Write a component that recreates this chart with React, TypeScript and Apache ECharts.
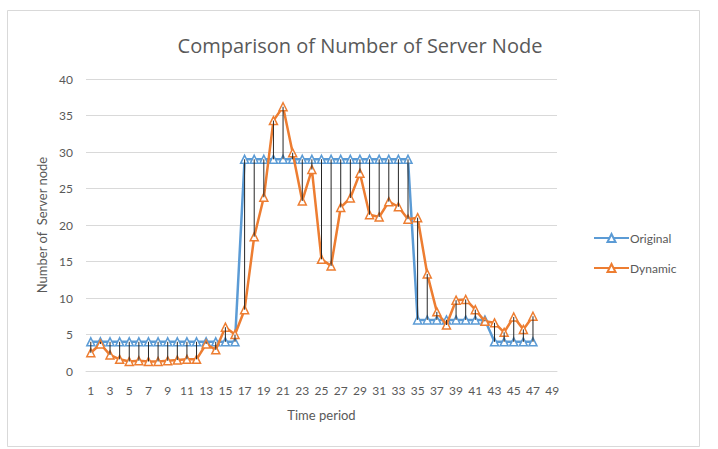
import React, { useEffect, useRef } from "react";
import * as echarts from "echarts";

const categories: string[] = Array.from({ length: 49 }, (_, i) => String(i + 1));

const original: number[] = [
  4, 4, 4, 4, 4, 4, 4, 4, 4, 4, 4, 4, 4, 4, 4, 4,
  29, 29, 29, 29, 29, 29, 29, 29, 29, 29, 29, 29, 29, 29, 29, 29, 29, 29,
  7, 7, 7, 7, 7, 7, 7, 7,
  4, 4, 4, 4, 4,
];

const dynamic: number[] = [
  2.5, 3.7, 2.2, 1.6, 1.3, 1.4, 1.3, 1.3, 1.4, 1.5, 1.6, 1.6, 3.7, 2.9, 6.0, 5.0,
  8.4, 18.4, 23.8, 34.3, 36.2, 29.9, 23.3, 27.6, 15.3, 14.4, 22.4, 23.7, 27.1, 21.4,
  21.1, 23.2, 22.5, 20.8, 21.0,
  13.3, 8.1, 6.3, 9.7, 9.8, 8.4, 6.8, 6.6, 5.3, 7.4, 5.7, 7.5,
];

const yTicks = { min: 0, max: 40, interval: 5 };

const FONT = "Lato, 'Open Sans', sans-serif";
const TXT = "#595959";

export default function App() {
  const ref = useRef<HTMLDivElement>(null);
  useEffect(() => {
    if (!ref.current) return;
    const chart = echarts.init(ref.current, undefined, { renderer: "svg" });
    const hlData = original.map((v, i) => [i, v, dynamic[i]]);
    chart.setOption({
      animation: false,
      backgroundColor: "#ffffff",
      textStyle: { fontFamily: FONT, color: TXT },
      graphic: [
        {
          type: "rect",
          shape: { x: 7.5, y: 10.5, width: 692, height: 436 },
          style: { fill: "none", stroke: "#d9d9d9", lineWidth: 1 },
          silent: true,
          z: -10,
        },
      ],
      title: {
        text: "Comparison of Number of Server Node",
        left: 355,
        textAlign: "center",
        top: 30,
        textStyle: { fontFamily: "'Open Sans', Lato, sans-serif", fontSize: 20, fontWeight: "normal", color: TXT },
      },
      legend: {
        orient: "vertical",
        left: 588,
        top: 227,
        itemWidth: 35,
        itemHeight: 10,
        itemGap: 18,
        textStyle: { fontFamily: FONT, fontSize: 12, color: TXT, padding: [0, 0, 0, -4] },
        data: ["Original", "Dynamic"],
      },
      grid: { left: 86, right: 161, top: 79, bottom: 78, containLabel: false },
      xAxis: {
        type: "category",
        data: categories,
        boundaryGap: true,
        name: "Time period",
        nameLocation: "middle",
        nameGap: 37,
        nameTextStyle: { fontFamily: FONT, fontSize: 13, color: TXT },
        axisLine: { show: true, lineStyle: { color: "#d9d9d9", width: 1 } },
        axisTick: { show: false },
        axisLabel: { interval: 1, margin: 13, fontFamily: FONT, fontSize: 12, color: TXT },
        splitLine: { show: false },
      },
      yAxis: {
        type: "value",
        min: yTicks.min,
        max: yTicks.max,
        interval: yTicks.interval,
        name: "Number of  Server node",
        nameLocation: "middle",
        nameGap: 37,
        nameRotate: 90,
        nameTextStyle: { fontFamily: FONT, fontSize: 13, color: TXT },
        axisLine: { show: false },
        axisTick: { show: false },
        axisLabel: { margin: 13, fontFamily: FONT, fontSize: 12, color: TXT },
        splitLine: { lineStyle: { color: "#d9d9d9", width: 1 } },
      },
      series: [
        {
          name: "Original",
          type: "line",
          data: original,
          symbol: "triangle",
          symbolSize: 8,
          showSymbol: true,
          showAllSymbol: true,
          lineStyle: { color: "#5b9bd5", width: 2.5 },
          itemStyle: { color: "#ffffff", borderColor: "#5b9bd5", borderWidth: 1.5 },
          emphasis: { disabled: true },
          z: 2,
        },
        {
          name: "Dynamic",
          type: "line",
          data: dynamic,
          symbol: "triangle",
          symbolSize: 8,
          showSymbol: true,
          showAllSymbol: true,
          lineStyle: { color: "#ed7d31", width: 2.5 },
          itemStyle: { color: "#ffffff", borderColor: "#ed7d31", borderWidth: 1.5 },
          emphasis: { disabled: true },
          z: 3,
        },
        {
          name: "HighLow",
          type: "custom",
          data: hlData,
          encode: { x: 0, y: [1, 2] },
          renderItem: (_params: any, api: any) => {
            const i = api.value(0);
            const a = api.coord([i, api.value(1)]);
            const b = api.coord([i, api.value(2)]);
            return {
              type: "line",
              shape: { x1: a[0], y1: a[1], x2: b[0], y2: b[1] },
              style: { stroke: "#262626", lineWidth: 1 },
            };
          },
          silent: true,
          z: 4,
        },
      ],
    });
    return () => chart.dispose();
  }, []);
  return (
    <div
      ref={ref}
      style={{ position: "fixed", left: 0, top: 0, width: 718, height: 449 }}
    />
  );
}
